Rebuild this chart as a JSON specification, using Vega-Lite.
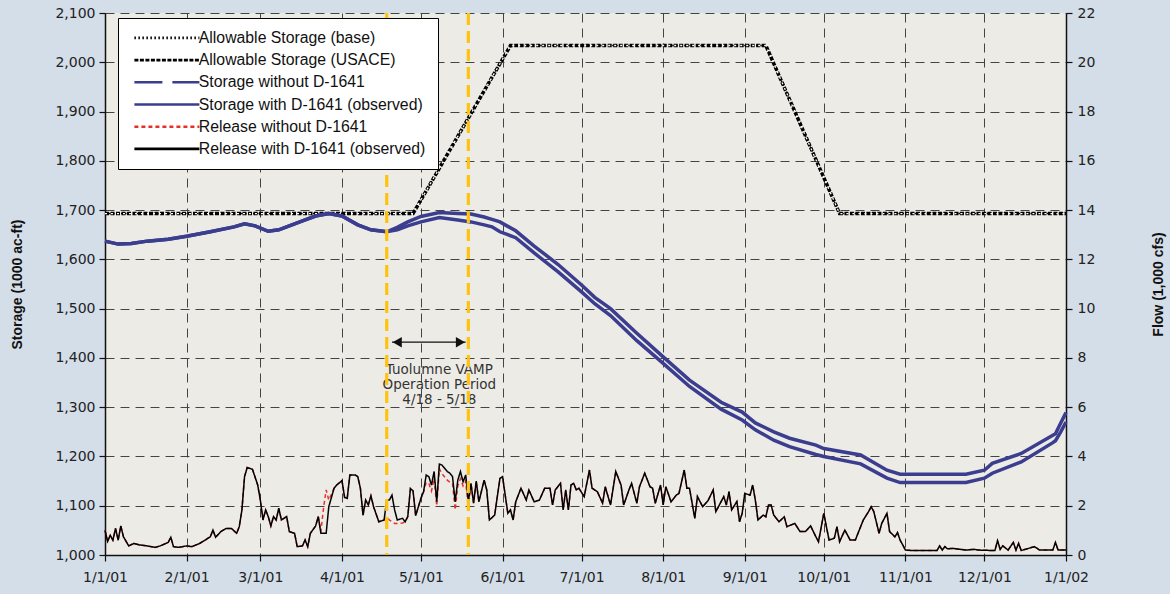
{
  "$schema": "https://vega.github.io/schema/vega-lite/v6.json",
  "width": 961,
  "height": 542,
  "autosize": "none",
  "padding": {"left": 105, "top": 13, "right": 104, "bottom": 39},
  "background": "#d4dee8",
  "config": {
    "view": {"fill": "#edebe5", "stroke": null},
    "axis": {
      "labelFont": "DejaVu Sans", "labelFontSize": 14, "labelColor": "#222",
      "titleFont": "Liberation Sans", "titleFontSize": 14, "titleFontWeight": "bold", "titleColor": "#111",
      "domainColor": "#111", "domainWidth": 1.5, "tickColor": "#111", "tickWidth": 1.2, "tickSize": 6,
      "gridColor": "#444", "gridDash": [9, 6], "gridWidth": 1
    },
    "legend": {
      "title": null, "orient": "none", "legendX": 13, "legendY": 5, "fillColor": "#ffffff", "strokeColor": "#000000",
      "padding": 12, "labelFont": "Liberation Sans", "labelFontSize": 15.8, "labelColor": "#111", "labelLimit": 400,
      "symbolType": "M-0.7,0H12.3", "symbolSize": 100, "labelOffset": 53, "rowPadding": 5.2
    }
  },
  "datasets": {
    "allow": [
      {"d": "2001-01-01", "A": 1693, "B": 1693},
      {"d": "2001-04-28", "A": 1693, "B": 1693},
      {"d": "2001-06-04", "A": 2034, "B": 2034},
      {"d": "2001-09-09", "A": 2034, "B": 2034},
      {"d": "2001-10-07", "A": 1693, "B": 1693},
      {"d": "2002-01-01", "A": 1693, "B": 1693}
    ],
    "stor": [
      {"d": "2001-01-01", "C": 1637, "D": 1637},
      {"d": "2001-01-06", "C": 1631, "D": 1631},
      {"d": "2001-01-11", "C": 1632, "D": 1632},
      {"d": "2001-01-17", "C": 1637, "D": 1637},
      {"d": "2001-01-25", "C": 1641, "D": 1641},
      {"d": "2001-02-01", "C": 1647, "D": 1647},
      {"d": "2001-02-10", "C": 1656, "D": 1656},
      {"d": "2001-02-19", "C": 1666, "D": 1666},
      {"d": "2001-02-23", "C": 1672, "D": 1672},
      {"d": "2001-02-27", "C": 1668, "D": 1668},
      {"d": "2001-03-04", "C": 1657, "D": 1657},
      {"d": "2001-03-08", "C": 1660, "D": 1660},
      {"d": "2001-03-12", "C": 1668, "D": 1668},
      {"d": "2001-03-17", "C": 1678, "D": 1678},
      {"d": "2001-03-22", "C": 1688, "D": 1688},
      {"d": "2001-03-27", "C": 1693, "D": 1693},
      {"d": "2001-04-01", "C": 1688, "D": 1688},
      {"d": "2001-04-07", "C": 1670, "D": 1670},
      {"d": "2001-04-12", "C": 1660, "D": 1660},
      {"d": "2001-04-18", "C": 1656, "D": 1656},
      {"d": "2001-04-22", "C": 1665, "D": 1660},
      {"d": "2001-04-26", "C": 1676, "D": 1668},
      {"d": "2001-05-01", "C": 1687, "D": 1676},
      {"d": "2001-05-08", "C": 1695, "D": 1685},
      {"d": "2001-05-15", "C": 1693, "D": 1680},
      {"d": "2001-05-20", "C": 1692, "D": 1676},
      {"d": "2001-05-25", "C": 1686, "D": 1670},
      {"d": "2001-05-28", "C": 1681, "D": 1666},
      {"d": "2001-05-31", "C": 1676, "D": 1656},
      {"d": "2001-06-03", "C": 1667, "D": 1650},
      {"d": "2001-06-06", "C": 1658, "D": 1644},
      {"d": "2001-06-13", "C": 1627, "D": 1613},
      {"d": "2001-06-22", "C": 1590, "D": 1575},
      {"d": "2001-07-01", "C": 1548, "D": 1534},
      {"d": "2001-07-06", "C": 1523, "D": 1510},
      {"d": "2001-07-12", "C": 1500, "D": 1486},
      {"d": "2001-07-22", "C": 1450, "D": 1435},
      {"d": "2001-08-01", "C": 1402, "D": 1389},
      {"d": "2001-08-11", "C": 1355, "D": 1342},
      {"d": "2001-08-23", "C": 1310, "D": 1296},
      {"d": "2001-08-31", "C": 1290, "D": 1274},
      {"d": "2001-09-05", "C": 1268, "D": 1254},
      {"d": "2001-09-12", "C": 1250, "D": 1233},
      {"d": "2001-09-18", "C": 1237, "D": 1220},
      {"d": "2001-09-28", "C": 1223, "D": 1204},
      {"d": "2001-10-01", "C": 1216, "D": 1200},
      {"d": "2001-10-15", "C": 1203, "D": 1185},
      {"d": "2001-10-25", "C": 1172, "D": 1156},
      {"d": "2001-10-30", "C": 1164, "D": 1147},
      {"d": "2001-11-24", "C": 1164, "D": 1147},
      {"d": "2001-12-01", "C": 1172, "D": 1156},
      {"d": "2001-12-04", "C": 1186, "D": 1166},
      {"d": "2001-12-15", "C": 1206, "D": 1189},
      {"d": "2001-12-27", "C": 1243, "D": 1228},
      {"d": "2001-12-28", "C": 1246, "D": 1232},
      {"d": "2001-12-30", "C": 1268, "D": 1250},
      {"d": "2002-01-01", "C": 1289, "D": 1270}
    ],
    "rel": [
      {"d": "2001-01-01", "E": 1.0, "F": 1.0},
      {"d": "2001-01-02", "E": 0.55, "F": 0.55},
      {"d": "2001-01-03", "E": 0.8, "F": 0.8},
      {"d": "2001-01-04", "E": 0.6, "F": 0.6},
      {"d": "2001-01-05", "E": 1.08, "F": 1.08},
      {"d": "2001-01-06", "E": 0.6, "F": 0.6},
      {"d": "2001-01-07", "E": 1.18, "F": 1.18},
      {"d": "2001-01-08", "E": 0.74, "F": 0.74},
      {"d": "2001-01-10", "E": 0.37, "F": 0.37},
      {"d": "2001-01-12", "E": 0.47, "F": 0.47},
      {"d": "2001-01-14", "E": 0.41, "F": 0.41},
      {"d": "2001-01-17", "E": 0.37, "F": 0.37},
      {"d": "2001-01-20", "E": 0.31, "F": 0.31},
      {"d": "2001-01-22", "E": 0.37, "F": 0.37},
      {"d": "2001-01-25", "E": 0.51, "F": 0.51},
      {"d": "2001-01-26", "E": 0.72, "F": 0.72},
      {"d": "2001-01-27", "E": 0.34, "F": 0.34},
      {"d": "2001-01-29", "E": 0.31, "F": 0.31},
      {"d": "2001-02-01", "E": 0.37, "F": 0.37},
      {"d": "2001-02-03", "E": 0.34, "F": 0.34},
      {"d": "2001-02-06", "E": 0.47, "F": 0.47},
      {"d": "2001-02-10", "E": 0.74, "F": 0.74},
      {"d": "2001-02-11", "E": 1.01, "F": 1.01},
      {"d": "2001-02-12", "E": 0.72, "F": 0.72},
      {"d": "2001-02-14", "E": 0.95, "F": 0.95},
      {"d": "2001-02-16", "E": 1.08, "F": 1.08},
      {"d": "2001-02-18", "E": 1.08, "F": 1.08},
      {"d": "2001-02-20", "E": 0.88, "F": 0.88},
      {"d": "2001-02-21", "E": 1.15, "F": 1.15},
      {"d": "2001-02-22", "E": 1.83, "F": 1.83},
      {"d": "2001-02-23", "E": 3.18, "F": 3.18},
      {"d": "2001-02-24", "E": 3.55, "F": 3.55},
      {"d": "2001-02-26", "E": 3.48, "F": 3.48},
      {"d": "2001-02-28", "E": 2.84, "F": 2.84},
      {"d": "2001-03-01", "E": 2.23, "F": 2.23},
      {"d": "2001-03-02", "E": 1.42, "F": 1.42},
      {"d": "2001-03-03", "E": 1.83, "F": 1.83},
      {"d": "2001-03-04", "E": 1.56, "F": 1.56},
      {"d": "2001-03-05", "E": 1.18, "F": 1.18},
      {"d": "2001-03-06", "E": 1.56, "F": 1.56},
      {"d": "2001-03-07", "E": 1.42, "F": 1.42},
      {"d": "2001-03-08", "E": 1.9, "F": 1.9},
      {"d": "2001-03-09", "E": 1.42, "F": 1.42},
      {"d": "2001-03-11", "E": 1.56, "F": 1.56},
      {"d": "2001-03-12", "E": 0.95, "F": 0.95},
      {"d": "2001-03-14", "E": 0.88, "F": 0.88},
      {"d": "2001-03-15", "E": 0.34, "F": 0.34},
      {"d": "2001-03-17", "E": 0.37, "F": 0.37},
      {"d": "2001-03-18", "E": 0.61, "F": 0.61},
      {"d": "2001-03-19", "E": 0.34, "F": 0.34},
      {"d": "2001-03-20", "E": 0.88, "F": 0.88},
      {"d": "2001-03-22", "E": 1.18, "F": 1.18},
      {"d": "2001-03-23", "E": 1.56, "F": 1.56},
      {"d": "2001-03-24", "E": 0.95, "F": 0.88},
      {"d": "2001-03-25", "E": 1.9, "F": 0.88},
      {"d": "2001-03-26", "E": 2.64, "F": 0.88},
      {"d": "2001-03-27", "E": 2.23, "F": 1.96},
      {"d": "2001-03-29", "E": 2.71, "F": 2.71},
      {"d": "2001-03-30", "E": 2.84, "F": 2.84},
      {"d": "2001-04-01", "E": 3.02, "F": 3.02},
      {"d": "2001-04-02", "E": 2.34, "F": 2.34},
      {"d": "2001-04-03", "E": 2.3, "F": 2.3},
      {"d": "2001-04-04", "E": 3.25, "F": 3.25},
      {"d": "2001-04-06", "E": 3.25, "F": 3.25},
      {"d": "2001-04-07", "E": 3.18, "F": 3.18},
      {"d": "2001-04-08", "E": 2.71, "F": 2.71},
      {"d": "2001-04-09", "E": 1.62, "F": 1.62},
      {"d": "2001-04-10", "E": 2.23, "F": 2.23},
      {"d": "2001-04-11", "E": 2.03, "F": 2.03},
      {"d": "2001-04-12", "E": 2.4, "F": 2.4},
      {"d": "2001-04-13", "E": 1.96, "F": 1.96},
      {"d": "2001-04-15", "E": 1.35, "F": 1.35},
      {"d": "2001-04-17", "E": 1.42, "F": 1.42},
      {"d": "2001-04-18", "E": 1.56, "F": 2.23},
      {"d": "2001-04-19", "E": 1.42, "F": 2.23},
      {"d": "2001-04-20", "E": 1.35, "F": 2.43},
      {"d": "2001-04-21", "E": 1.28, "F": 1.83},
      {"d": "2001-04-22", "E": 1.28, "F": 1.42},
      {"d": "2001-04-24", "E": 1.3, "F": 1.49},
      {"d": "2001-04-25", "E": 1.35, "F": 1.35},
      {"d": "2001-04-26", "E": 1.56, "F": 1.56},
      {"d": "2001-04-27", "E": 2.7, "F": 2.7},
      {"d": "2001-04-28", "E": 2.6, "F": 2.6},
      {"d": "2001-04-29", "E": 1.6, "F": 1.6},
      {"d": "2001-05-01", "E": 2.3, "F": 2.3},
      {"d": "2001-05-02", "E": 2.57, "F": 2.57},
      {"d": "2001-05-03", "E": 2.95, "F": 3.25},
      {"d": "2001-05-04", "E": 2.9, "F": 3.18},
      {"d": "2001-05-05", "E": 2.6, "F": 2.84},
      {"d": "2001-05-06", "E": 3.1, "F": 3.39},
      {"d": "2001-05-07", "E": 2.0, "F": 2.16},
      {"d": "2001-05-08", "E": 3.5, "F": 3.69},
      {"d": "2001-05-09", "E": 3.3, "F": 3.65},
      {"d": "2001-05-11", "E": 3.04, "F": 3.39},
      {"d": "2001-05-12", "E": 2.95, "F": 3.32},
      {"d": "2001-05-13", "E": 2.9, "F": 3.18},
      {"d": "2001-05-14", "E": 1.83, "F": 2.16},
      {"d": "2001-05-15", "E": 2.8, "F": 3.04},
      {"d": "2001-05-16", "E": 3.1, "F": 3.39},
      {"d": "2001-05-17", "E": 2.8, "F": 2.97},
      {"d": "2001-05-18", "E": 3.0, "F": 3.25},
      {"d": "2001-05-19", "E": 1.9, "F": 2.16},
      {"d": "2001-05-20", "E": 2.91, "F": 2.91},
      {"d": "2001-05-21", "E": 2.1, "F": 2.1},
      {"d": "2001-05-22", "E": 3.0, "F": 3.0},
      {"d": "2001-05-23", "E": 2.16, "F": 2.16},
      {"d": "2001-05-25", "E": 3.04, "F": 3.04},
      {"d": "2001-05-26", "E": 2.64, "F": 2.64},
      {"d": "2001-05-27", "E": 1.42, "F": 1.42},
      {"d": "2001-05-29", "E": 1.62, "F": 1.62},
      {"d": "2001-05-31", "E": 3.11, "F": 3.11},
      {"d": "2001-06-01", "E": 3.18, "F": 3.18},
      {"d": "2001-06-03", "E": 1.69, "F": 1.69},
      {"d": "2001-06-04", "E": 1.83, "F": 1.83},
      {"d": "2001-06-05", "E": 1.42, "F": 1.42},
      {"d": "2001-06-06", "E": 2.16, "F": 2.16},
      {"d": "2001-06-08", "E": 2.71, "F": 2.71},
      {"d": "2001-06-10", "E": 2.23, "F": 2.23},
      {"d": "2001-06-11", "E": 2.64, "F": 2.64},
      {"d": "2001-06-13", "E": 2.16, "F": 2.16},
      {"d": "2001-06-15", "E": 2.23, "F": 2.23},
      {"d": "2001-06-17", "E": 2.71, "F": 2.71},
      {"d": "2001-06-19", "E": 2.71, "F": 2.71},
      {"d": "2001-06-20", "E": 2.03, "F": 2.03},
      {"d": "2001-06-21", "E": 2.64, "F": 2.64},
      {"d": "2001-06-23", "E": 2.91, "F": 2.91},
      {"d": "2001-06-24", "E": 1.83, "F": 1.83},
      {"d": "2001-06-25", "E": 2.64, "F": 2.64},
      {"d": "2001-06-26", "E": 1.83, "F": 1.83},
      {"d": "2001-06-27", "E": 2.84, "F": 2.84},
      {"d": "2001-06-28", "E": 2.91, "F": 2.91},
      {"d": "2001-06-29", "E": 2.64, "F": 2.64},
      {"d": "2001-06-30", "E": 2.71, "F": 2.71},
      {"d": "2001-07-02", "E": 2.37, "F": 2.37},
      {"d": "2001-07-04", "E": 3.45, "F": 3.45},
      {"d": "2001-07-05", "E": 2.71, "F": 2.71},
      {"d": "2001-07-07", "E": 2.57, "F": 2.57},
      {"d": "2001-07-09", "E": 2.1, "F": 2.1},
      {"d": "2001-07-10", "E": 2.77, "F": 2.77},
      {"d": "2001-07-12", "E": 2.03, "F": 2.03},
      {"d": "2001-07-14", "E": 3.39, "F": 3.39},
      {"d": "2001-07-16", "E": 2.84, "F": 2.84},
      {"d": "2001-07-17", "E": 2.03, "F": 2.03},
      {"d": "2001-07-19", "E": 2.64, "F": 2.64},
      {"d": "2001-07-20", "E": 2.91, "F": 2.91},
      {"d": "2001-07-22", "E": 2.1, "F": 2.1},
      {"d": "2001-07-23", "E": 2.77, "F": 2.77},
      {"d": "2001-07-25", "E": 3.32, "F": 3.32},
      {"d": "2001-07-27", "E": 2.77, "F": 2.77},
      {"d": "2001-07-28", "E": 2.71, "F": 2.71},
      {"d": "2001-07-29", "E": 2.1, "F": 2.1},
      {"d": "2001-07-31", "E": 2.84, "F": 2.84},
      {"d": "2001-08-01", "E": 2.03, "F": 2.03},
      {"d": "2001-08-02", "E": 2.77, "F": 2.77},
      {"d": "2001-08-04", "E": 2.16, "F": 2.16},
      {"d": "2001-08-06", "E": 2.43, "F": 2.43},
      {"d": "2001-08-07", "E": 2.5, "F": 2.5},
      {"d": "2001-08-09", "E": 3.45, "F": 3.45},
      {"d": "2001-08-10", "E": 2.71, "F": 2.71},
      {"d": "2001-08-11", "E": 2.71, "F": 2.71},
      {"d": "2001-08-13", "E": 1.49, "F": 1.49},
      {"d": "2001-08-14", "E": 2.37, "F": 2.37},
      {"d": "2001-08-16", "E": 1.96, "F": 1.96},
      {"d": "2001-08-18", "E": 2.2, "F": 2.2},
      {"d": "2001-08-20", "E": 2.64, "F": 2.64},
      {"d": "2001-08-21", "E": 1.76, "F": 1.76},
      {"d": "2001-08-22", "E": 1.96, "F": 1.96},
      {"d": "2001-08-24", "E": 2.37, "F": 2.37},
      {"d": "2001-08-25", "E": 2.03, "F": 2.03},
      {"d": "2001-08-26", "E": 2.57, "F": 2.57},
      {"d": "2001-08-27", "E": 1.83, "F": 1.83},
      {"d": "2001-08-29", "E": 2.17, "F": 2.17},
      {"d": "2001-08-30", "E": 1.35, "F": 1.35},
      {"d": "2001-08-31", "E": 1.69, "F": 1.69},
      {"d": "2001-09-01", "E": 2.5, "F": 2.5},
      {"d": "2001-09-03", "E": 2.43, "F": 2.43},
      {"d": "2001-09-04", "E": 2.84, "F": 2.84},
      {"d": "2001-09-05", "E": 2.23, "F": 2.23},
      {"d": "2001-09-06", "E": 1.42, "F": 1.42},
      {"d": "2001-09-08", "E": 1.62, "F": 1.62},
      {"d": "2001-09-09", "E": 1.55, "F": 1.55},
      {"d": "2001-09-10", "E": 2.03, "F": 2.03},
      {"d": "2001-09-11", "E": 2.03, "F": 2.03},
      {"d": "2001-09-12", "E": 1.62, "F": 1.62},
      {"d": "2001-09-14", "E": 1.35, "F": 1.35},
      {"d": "2001-09-16", "E": 1.55, "F": 1.55},
      {"d": "2001-09-17", "E": 1.15, "F": 1.15},
      {"d": "2001-09-20", "E": 1.28, "F": 1.28},
      {"d": "2001-09-22", "E": 0.95, "F": 0.95},
      {"d": "2001-09-24", "E": 0.95, "F": 0.95},
      {"d": "2001-09-26", "E": 1.18, "F": 1.18},
      {"d": "2001-09-28", "E": 0.74, "F": 0.74},
      {"d": "2001-09-29", "E": 0.54, "F": 0.54},
      {"d": "2001-10-01", "E": 1.69, "F": 1.69},
      {"d": "2001-10-03", "E": 0.61, "F": 0.61},
      {"d": "2001-10-05", "E": 0.68, "F": 0.68},
      {"d": "2001-10-06", "E": 1.15, "F": 1.15},
      {"d": "2001-10-07", "E": 0.54, "F": 0.54},
      {"d": "2001-10-09", "E": 1.01, "F": 1.01},
      {"d": "2001-10-11", "E": 0.61, "F": 0.61},
      {"d": "2001-10-13", "E": 0.61, "F": 0.61},
      {"d": "2001-10-16", "E": 1.42, "F": 1.42},
      {"d": "2001-10-18", "E": 1.76, "F": 1.76},
      {"d": "2001-10-19", "E": 1.96, "F": 1.96},
      {"d": "2001-10-20", "E": 1.76, "F": 1.76},
      {"d": "2001-10-22", "E": 0.88, "F": 0.88},
      {"d": "2001-10-23", "E": 1.28, "F": 1.28},
      {"d": "2001-10-25", "E": 1.69, "F": 1.69},
      {"d": "2001-10-26", "E": 0.95, "F": 0.95},
      {"d": "2001-10-28", "E": 0.74, "F": 0.74},
      {"d": "2001-10-29", "E": 0.91, "F": 0.91},
      {"d": "2001-10-30", "E": 0.6, "F": 0.6},
      {"d": "2001-10-31", "E": 0.41, "F": 0.41},
      {"d": "2001-11-01", "E": 0.2, "F": 0.2},
      {"d": "2001-11-04", "E": 0.18, "F": 0.18},
      {"d": "2001-11-13", "E": 0.18, "F": 0.18},
      {"d": "2001-11-14", "E": 0.37, "F": 0.37},
      {"d": "2001-11-15", "E": 0.2, "F": 0.2},
      {"d": "2001-11-16", "E": 0.34, "F": 0.34},
      {"d": "2001-11-17", "E": 0.25, "F": 0.25},
      {"d": "2001-11-19", "E": 0.27, "F": 0.27},
      {"d": "2001-11-24", "E": 0.2, "F": 0.2},
      {"d": "2001-11-27", "E": 0.23, "F": 0.23},
      {"d": "2001-11-29", "E": 0.2, "F": 0.2},
      {"d": "2001-12-05", "E": 0.18, "F": 0.18},
      {"d": "2001-12-06", "E": 0.58, "F": 0.58},
      {"d": "2001-12-07", "E": 0.23, "F": 0.23},
      {"d": "2001-12-08", "E": 0.37, "F": 0.37},
      {"d": "2001-12-10", "E": 0.2, "F": 0.2},
      {"d": "2001-12-12", "E": 0.51, "F": 0.51},
      {"d": "2001-12-13", "E": 0.2, "F": 0.2},
      {"d": "2001-12-14", "E": 0.47, "F": 0.47},
      {"d": "2001-12-15", "E": 0.18, "F": 0.18},
      {"d": "2001-12-20", "E": 0.34, "F": 0.34},
      {"d": "2001-12-22", "E": 0.2, "F": 0.2},
      {"d": "2001-12-27", "E": 0.2, "F": 0.2},
      {"d": "2001-12-28", "E": 0.51, "F": 0.51},
      {"d": "2001-12-29", "E": 0.2, "F": 0.2},
      {"d": "2002-01-01", "E": 0.2, "F": 0.2}
    ]
  },
  "encoding": {
    "x": {
      "field": "d", "type": "temporal",
      "scale": {"type": "utc", "domain": [{"year": 2001, "month": 1, "date": 1, "utc": true}, {"year": 2002, "month": 1, "date": 1, "utc": true}]},
      "axis": {
        "title": null, "format": "%-m/%-d/%y", "grid": true, "labelPadding": 9, "labelFlush": false, "labelOverlap": false,
        "values": [
          {"year": 2001, "month": 1, "date": 1, "utc": true}, {"year": 2001, "month": 2, "date": 1, "utc": true},
          {"year": 2001, "month": 3, "date": 1, "utc": true}, {"year": 2001, "month": 4, "date": 1, "utc": true},
          {"year": 2001, "month": 5, "date": 1, "utc": true}, {"year": 2001, "month": 6, "date": 1, "utc": true},
          {"year": 2001, "month": 7, "date": 1, "utc": true}, {"year": 2001, "month": 8, "date": 1, "utc": true},
          {"year": 2001, "month": 9, "date": 1, "utc": true}, {"year": 2001, "month": 10, "date": 1, "utc": true},
          {"year": 2001, "month": 11, "date": 1, "utc": true}, {"year": 2001, "month": 12, "date": 1, "utc": true},
          {"year": 2002, "month": 1, "date": 1, "utc": true}
        ]
      }
    }
  },
  "layer": [
    {
      "encoding": {
        "y": {
          "field": "v", "type": "quantitative",
          "scale": {"domain": [1000, 2100], "nice": false, "zero": false},
          "axis": {"title": "Storage (1000 ac-ft)", "tickCount": 11, "grid": true, "labelPadding": 4,
                   "titleX": -88, "titleY": 271, "titleAngle": 270, "titleAlign": "center", "titleBaseline": "middle"}
        }
      },
      "layer": [
        {
          "data": {"name": "allow"},
          "transform": [{"fold": ["A"], "as": ["k", "v"]}],
          "mark": {"type": "line", "strokeWidth": 1.4},
          "encoding": {
            "color": {"field": "k", "type": "nominal",
              "scale": {"domain": ["A", "B", "C", "D", "E", "F"], "range": ["#000000", "#000000", "#3b3d8f", "#3b3d8f", "#e8302a", "#000000"]},
              "legend": {"labelExpr": "{'A':'Allowable Storage (base)','B':'Allowable Storage (USACE)','C':'Storage without D-1641','D':'Storage with D-1641 (observed)','E':'Release without D-1641','F':'Release with D-1641 (observed)'}[datum.label]", "symbolStrokeWidth": 2.6}},
            "strokeDash": {"field": "k", "type": "nominal",
              "scale": {"domain": ["A", "B", "C", "D", "E", "F"], "range": [[1.5, 2.5], [4, 1.5], [28, 10], [1, 0], [4, 3], [1, 0]]}}
          }
        },
        {
          "data": {"name": "allow"},
          "transform": [{"fold": ["B"], "as": ["k", "v"]}],
          "mark": {"type": "line", "strokeWidth": 3.5},
          "encoding": {
            "color": {"field": "k", "type": "nominal"},
            "strokeDash": {"field": "k", "type": "nominal"}
          }
        },
        {
          "data": {"name": "allow"},
          "transform": [{"fold": ["B"], "as": ["k2", "v"]}],
          "mark": {"type": "line", "color": "#ffffff", "strokeWidth": 1.3, "strokeDash": [2, 4]},
          "encoding": {}
        },
        {
          "data": {"name": "stor"},
          "transform": [{"fold": ["C", "D"], "as": ["k", "v"]}],
          "mark": {"type": "line", "strokeWidth": 3.5},
          "encoding": {
            "color": {"field": "k", "type": "nominal"}
          }
        },
        {
          "data": {"values": [{"d": "2001-04-20", "d2": "2001-05-18", "v": 1432}]},
          "mark": {"type": "rule", "color": "#111", "strokeWidth": 1.4},
          "encoding": {"x2": {"field": "d2"}}
        },
        {
          "data": {"values": [{"d": "2001-04-22", "v": 1432, "h": "L"}, {"d": "2001-05-16", "v": 1432, "h": "R"}]},
          "mark": {"type": "point", "filled": true, "color": "#111", "size": 110, "opacity": 1},
          "encoding": {"shape": {"field": "h", "type": "nominal", "scale": {"domain": ["L", "R"], "range": ["triangle-left", "triangle-right"]}, "legend": null}}
        },
        {
          "data": {"values": [
            {"d": "2001-05-08", "v": 1375, "t": "Tuolumne VAMP"},
            {"d": "2001-05-08", "v": 1346, "t": "Operation Period"},
            {"d": "2001-05-08", "v": 1314, "t": "4/18 - 5/18"}
          ]},
          "mark": {"type": "text", "font": "DejaVu Sans", "fontSize": 13.5, "color": "#333", "align": "center", "baseline": "middle"},
          "encoding": {"text": {"field": "t"}}
        }
      ]
    },
    {
      "data": {"name": "rel"},
      "transform": [{"fold": ["E", "F"], "as": ["k", "f"]}],
      "mark": {"type": "line", "strokeWidth": 1.5},
      "encoding": {
        "y": {"field": "f", "type": "quantitative",
          "scale": {"domain": [0, 22], "nice": false},
          "axis": {"orient": "right", "title": "Flow (1,000 cfs)", "tickCount": 11, "grid": false, "labelPadding": 5,
                   "titleX": 92, "titleY": 271, "titleAngle": 270, "titleAlign": "center", "titleBaseline": "middle"}},
        "color": {"field": "k", "type": "nominal"},
        "strokeDash": {"field": "k", "type": "nominal"}
      }
    },
    {
      "data": {"values": [{"d": "2001-04-18"}, {"d": "2001-05-19"}]},
      "mark": {"type": "rule", "color": "#ffc20e", "strokeWidth": 3.2, "strokeDash": [12, 6]},
      "encoding": {}
    }
  ],
  "resolve": {"scale": {"y": "independent"}}
}
